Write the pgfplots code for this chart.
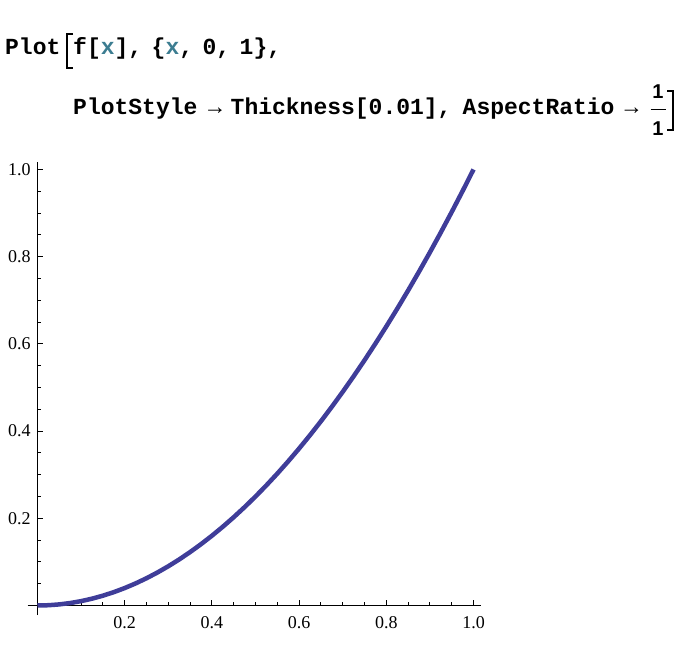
\documentclass[border=0pt]{standalone}
\usepackage{fontspec}
\setmainfont{Liberation Serif}
\setmonofont{Liberation Mono}
\newfontfamily\fracfont{Liberation Sans}
\usepackage{pgfplots}
\pgfplotsset{compat=1.18}

\definecolor{curve}{rgb}{0.247,0.24,0.6}
\definecolor{locvar}{RGB}{60,125,145}
\newcommand\cs{\hspace*{9.5bp}}
\newcommand\code{\ttfamily\bfseries\fontsize{23bp}{27bp}\selectfont}

\begin{document}
\begin{tikzpicture}[x=1bp,y=1bp]
\useasboundingbox (0,0) rectangle (684,660);

% input cell
\node[anchor=base west,inner sep=0pt] at (5,605.7) {\code Plot};
\node[anchor=base west,inner sep=0pt] at (73,605.7)
  {\code f[\textcolor{locvar}{x}],\cs\{\textcolor{locvar}{x},\cs0,\cs1\},};
\draw[line width=1.8bp] (73,625.7) -- (67,625.7) -- (67,591.7) -- (73,591.7);
\node[anchor=base west,inner sep=0pt] at (73,545) {\code PlotStyle};
\node[anchor=base,inner sep=0pt] at (215,545) {\code →};
\node[anchor=base west,inner sep=0pt] at (230.5,545) {\code Thickness[0.01],};
\node[anchor=base west,inner sep=0pt] at (462.5,545) {\code AspectRatio};
\node[anchor=base,inner sep=0pt] at (631.5,545) {\code →};
\node[anchor=base,inner sep=0pt] at (658,561) {\fracfont\bfseries\fontsize{20bp}{24bp}\selectfont 1};
\node[anchor=base,inner sep=0pt] at (658,524) {\fracfont\bfseries\fontsize{20bp}{24bp}\selectfont 1};
\draw[line width=1.4bp] (650.5,550.7) -- (665.5,550.7);
\draw[line width=1.8bp] (667,569.3) -- (673,569.3) -- (673,530) -- (667,530);

\begin{axis}[
  at={(37.5bp,54.5bp)}, anchor=origin,
  x=436bp, y=436bp,
  xmin=-0.0225, xmax=1.017,
  ymin=-0.0218, ymax=1.018,
  axis lines=middle,
  axis line style={-, line width=0.9bp},
  every inner x axis line/.append style={-},
  every inner y axis line/.append style={-},
  xtick={0.2,0.4,0.6,0.8,1.0},
  ytick={0.2,0.4,0.6,0.8,1.0},
  minor xtick={0.05,0.1,0.15,0.25,0.3,0.35,0.45,0.5,0.55,0.65,0.7,0.75,0.85,0.9,0.95},
  minor ytick={0.05,0.1,0.15,0.25,0.3,0.35,0.45,0.5,0.55,0.65,0.7,0.75,0.85,0.9,0.95},
  tick align=inside,
  major tick length=5.5bp, minor tick length=3.2bp,
  tick style={black, line width=0.9bp},
  xticklabels={0.2,0.4,0.6,0.8,1.0},
  yticklabels={0.2,0.4,0.6,0.8,1.0},
  xticklabel style={anchor=base, inner sep=0pt, yshift=-22.8bp},
  yticklabel style={anchor=east, inner sep=0pt, xshift=-6.8bp},
  ticklabel style={font=\fontsize{18bp}{21bp}\selectfont},
  clip=false,
]
\addplot[color=curve, line width=4.5bp, line join=round] table {
x y
0.000 0.000000
0.025 0.000625
0.050 0.002500
0.075 0.005625
0.100 0.010000
0.125 0.015625
0.150 0.022500
0.175 0.030625
0.200 0.040000
0.225 0.050625
0.250 0.062500
0.275 0.075625
0.300 0.090000
0.325 0.105625
0.350 0.122500
0.375 0.140625
0.400 0.160000
0.425 0.180625
0.450 0.202500
0.475 0.225625
0.500 0.250000
0.525 0.275625
0.550 0.302500
0.575 0.330625
0.600 0.360000
0.625 0.390625
0.650 0.422500
0.675 0.455625
0.700 0.490000
0.725 0.525625
0.750 0.562500
0.775 0.600625
0.800 0.640000
0.825 0.680625
0.850 0.722500
0.875 0.765625
0.900 0.810000
0.925 0.855625
0.950 0.902500
0.975 0.950625
1.000 1.000000
};
\end{axis}
\end{tikzpicture}
\end{document}
